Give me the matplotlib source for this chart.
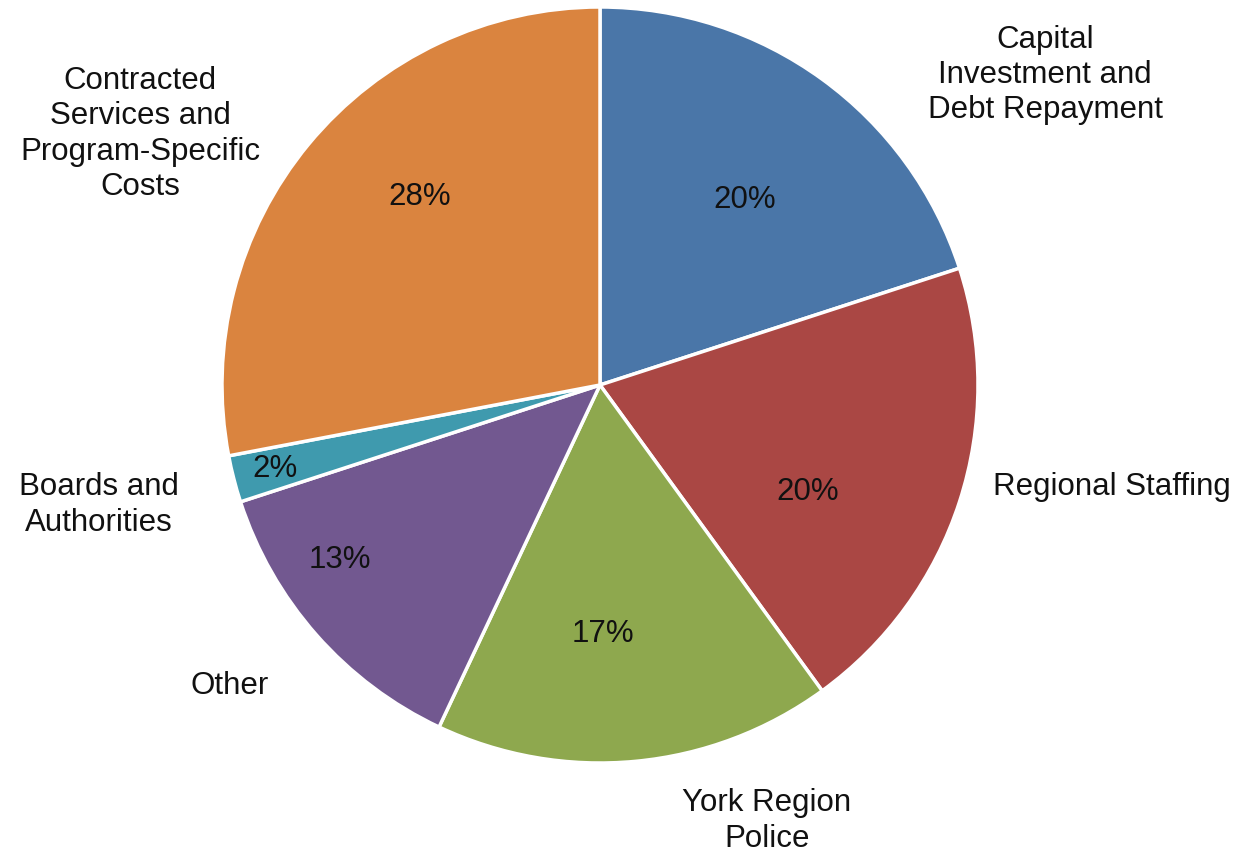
import matplotlib.pyplot as plt
import numpy as np

plt.rcParams['font.family'] = ['Liberation Sans', 'DejaVu Sans']

# budget shares, clockwise from 12 o'clock
categories = ['Capital\nInvestment and\nDebt Repayment', 'Regional Staffing',
              'York Region\nPolice', 'Other', 'Boards and\nAuthorities',
              'Contracted\nServices and\nProgram-Specific\nCosts']
shares = [20, 20, 17, 13, 2, 28]
colors = ['#4A76A8', '#AA4744', '#8EA84E', '#725890', '#3F9AAE', '#DA843F']

W, H = 1239, 853
fig = plt.figure(figsize=(W / 100, H / 100), dpi=100)
ax = fig.add_axes([0, 0, 1, 1])

cx, cy, R = 600, H - 386, 378
wedges, _ = ax.pie(shares, colors=colors, startangle=90, counterclock=False,
                   center=(cx, cy), radius=R, frame=True,
                   wedgeprops=dict(edgecolor='white', linewidth=2.5))
ax.set_xlim(0, W)
ax.set_ylim(0, H)
ax.set_aspect('equal')
ax.axis('off')

# percentage labels: radius fraction and angular nudge (deg) from wedge middle
pct_r = [0.628, 0.615, 0.651, 0.825, 0.886, 0.694]
pct_da = [-1.6, -8.6, -4.7, -7.9, -0.4, -7.1]
for w, v, f, da in zip(wedges, shares, pct_r, pct_da):
    a = np.deg2rad((w.theta1 + w.theta2) / 2 + da)
    ax.text(cx + f * R * np.cos(a), cy + f * R * np.sin(a) - 2, f'{v}%',
            ha='center', va='center', fontsize=22.5, color='#111111')

# category labels outside the pie
lab_pos = [(1045, 75), (1112, 487), (767, 821), (230, 686), (99, 505), (140, 134)]
for lab, (x, y) in zip(categories, lab_pos):
    ax.text(x, H - y, lab, ha='center', va='center', fontsize=22.5,
            linespacing=1.22, color='#111111')

fig.savefig('out.png', dpi=100, facecolor='white')
